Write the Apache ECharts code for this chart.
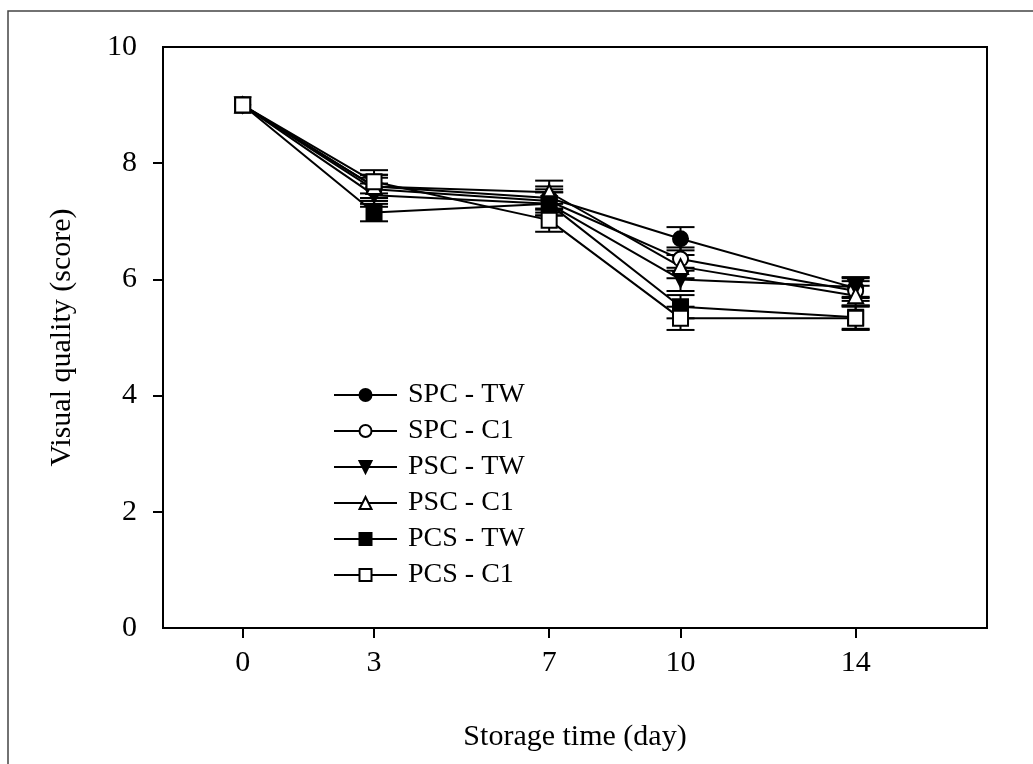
<!DOCTYPE html>
<html>
<head>
<meta charset="utf-8">
<script src="https://cdn.jsdelivr.net/npm/echarts@6/dist/echarts.min.js"></script>
<style>html,body{margin:0;padding:0;background:#fff}#c{width:1033px;height:764px}</style>
</head>
<body>
<div id="c"></div>
<script>
const days = [0, 3, 7, 10, 14];
const xTickLabels = [0, 3, 7, 10, 14];
const yTicks = [2, 4, 6, 8];
const seriesNames = ['SPC - TW', 'SPC - C1', 'PSC - TW', 'PSC - C1', 'PCS - TW', 'PCS - C1'];
const spcTW = [9.0, 7.6, 7.4, 6.7, 5.85];
const spcC1 = [9.0, 7.55, 7.35, 6.35, 5.8];
const pscTW = [9.0, 7.45, 7.3, 6.0, 5.87];
const pscC1 = [9.0, 7.6, 7.5, 6.22, 5.72];
const pcsTW = [9.0, 7.15, 7.3, 5.53, 5.35];
const pcsC1 = [9.0, 7.68, 7.02, 5.33, 5.33];
const errSpcTW = [0, 0.2, 0.2, 0.2, 0.17];
const errSpcC1 = [0, 0.2, 0.2, 0.2, 0.17];
const errPscTW = [0, 0.2, 0.2, 0.2, 0.17];
const errPscC1 = [0, 0.2, 0.2, 0.2, 0.17];
const errPcsTW = [0, 0.15, 0.2, 0.2, 0.2];
const errPcsC1 = [0, 0.2, 0.2, 0.2, 0.2];

const values = [spcTW, spcC1, pscTW, pscC1, pcsTW, pcsC1];
const errs = [errSpcTW, errSpcC1, errPscTW, errPscC1, errPcsTW, errPcsC1];
const symbols = [
  {symbol: 'circle', fill: '#000', rot: 0},
  {symbol: 'circle', fill: '#fff', rot: 0},
  {symbol: 'triangle', fill: '#000', rot: 180},
  {symbol: 'triangle', fill: '#fff', rot: 0},
  {symbol: 'rect', fill: '#000', rot: 0},
  {symbol: 'rect', fill: '#fff', rot: 0}
];
const FONT = 'Liberation Serif';

const series = [];
values.forEach((vals, i) => {
  const d = days.map((x, k) => [x, vals[k] - errs[i][k], vals[k] + errs[i][k]]);
  series.push({
    type: 'custom',
    silent: true,
    z: 1,
    renderItem: function (params, api) {
      const x = api.value(0), lo = api.value(1), hi = api.value(2);
      if (hi - lo < 0.01) return null;
      const pLo = api.coord([x, lo]), pHi = api.coord([x, hi]);
      const hw = 14;
      const st = {stroke: '#000', lineWidth: 2};
      return {type: 'group', children: [
        {type: 'line', shape: {x1: pLo[0], y1: pLo[1], x2: pHi[0], y2: pHi[1]}, style: st},
        {type: 'line', shape: {x1: pLo[0] - hw, y1: pLo[1], x2: pLo[0] + hw, y2: pLo[1]}, style: st},
        {type: 'line', shape: {x1: pHi[0] - hw, y1: pHi[1], x2: pHi[0] + hw, y2: pHi[1]}, style: st}
      ]};
    },
    data: d
  });
});
values.forEach((vals, i) => {
  series.push({
    name: seriesNames[i],
    type: 'line',
    z: 3,
    data: days.map((x, k) => [x, vals[k]]),
    symbol: symbols[i].symbol,
    symbolRotate: symbols[i].rot,
    symbolSize: 15,
    showAllSymbol: true,
    lineStyle: {color: '#000', width: 2},
    itemStyle: {color: symbols[i].fill, borderColor: '#000', borderWidth: 2},
    emphasis: {disabled: true}
  });
});

const chart = echarts.init(document.getElementById('c'), null, {renderer: 'canvas'});
chart.setOption({
  animation: false,
  backgroundColor: '#fff',
  graphic: [{type: 'rect', shape: {x: 8, y: 11, width: 1200, height: 900}, style: {fill: 'none', stroke: '#444', lineWidth: 1.5}, z: 0}],
  grid: {left: 163, top: 47, right: 46, bottom: 136, show: true, borderColor: '#000', borderWidth: 2, backgroundColor: 'transparent'},
  legend: {
    orient: 'vertical', left: 328, top: 376, itemWidth: 63, itemHeight: 15, itemGap: 8,
    data: seriesNames,
    textStyle: {fontFamily: FONT, fontSize: 28, color: '#000', padding: [0, 0, 0, 6]},
    selectedMode: false
  },
  xAxis: {
    type: 'value', min: -1.82, max: 17,
    name: 'Storage time (day)', nameLocation: 'middle', nameGap: 94,
    nameTextStyle: {fontFamily: FONT, fontSize: 30, color: '#000'},
    axisLine: {show: true, onZero: false, lineStyle: {color: '#000', width: 2}},
    axisTick: {show: true, inside: false, length: 10, lineStyle: {color: '#000', width: 2}, customValues: xTickLabels},
    axisLabel: {fontFamily: FONT, fontSize: 30, color: '#000', margin: 20, customValues: xTickLabels},
    splitLine: {show: false}
  },
  yAxis: {
    type: 'value', min: 0, max: 10, interval: 2,
    name: 'Visual quality (score)', nameLocation: 'middle', nameGap: 86, nameRotate: 90,
    nameTextStyle: {fontFamily: FONT, fontSize: 30, color: '#000'},
    axisLine: {show: true, onZero: false, lineStyle: {color: '#000', width: 2}},
    axisTick: {show: true, inside: false, length: 10, lineStyle: {color: '#000', width: 2}, customValues: yTicks},
    axisLabel: {fontFamily: FONT, fontSize: 30, color: '#000', margin: 26},
    splitLine: {show: false}
  },
  series: series
});
</script>
</body>
</html>
